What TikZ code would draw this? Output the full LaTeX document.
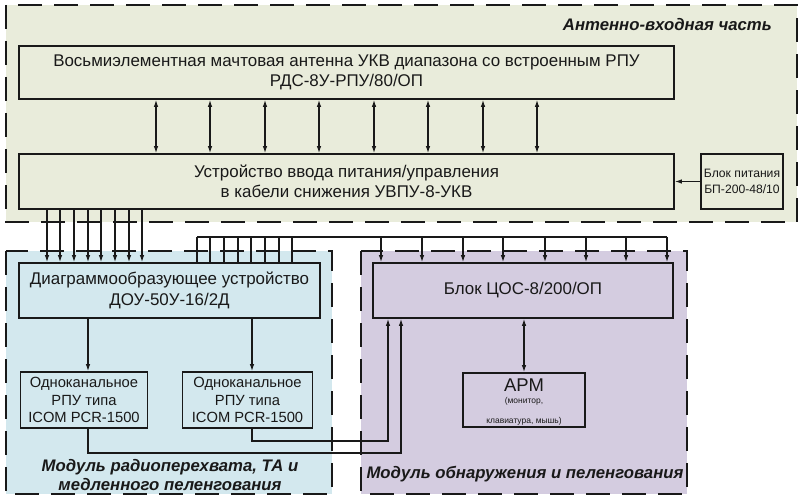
\documentclass[tikz,border=0pt]{standalone}
\usepackage{fontspec}
\setmainfont{Liberation Sans}
\usetikzlibrary{arrows.meta}
\definecolor{greenbg}{RGB}{233,236,219}
\definecolor{bluebg}{RGB}{211,232,238}
\definecolor{purplebg}{RGB}{212,204,224}
\definecolor{ink}{RGB}{25,25,25}
\tikzset{
  region/.style={draw=ink, line width=2bp, dash pattern=on 24bp off 12bp},
  blk/.style={draw=ink, line width=1.6bp, inner sep=0pt, align=center, text=ink},
  conn/.style={draw=ink, line width=1.2bp},
  arr/.style={conn, -{Latex[length=7bp,width=4.5bp]}},
  darr/.style={conn, {Latex[length=7bp,width=4.5bp]}-{Latex[length=7bp,width=4.5bp]}},
  lbl/.style={font=\fontsize{16.8}{19.5}\selectfont\bfseries\itshape, text=ink, inner sep=0pt, align=center},
  big/.style={font=\fontsize{17}{20.5}\selectfont},
}
\begin{document}
\begin{tikzpicture}[x=1bp,y=-1bp]
\useasboundingbox (0,0) rectangle (800,498);
% regions
\fill[white] (0,0) rectangle (800,498);
\fill[greenbg] (6,5) rectangle (797,222);
\draw[region] (6,5) rectangle (797,222);
\fill[bluebg] (6,251) rectangle (332,494);
\draw[region] (6,251) rectangle (332,494);
\fill[purplebg] (361,251) rectangle (687,494);
\draw[region] (361,251) rectangle (687,494);
% labels
\node[lbl, anchor=east] (lblA) at (772,25) {Антенно-входная часть};
\node[lbl] (lblB) at (170,475) {Модуль радиоперехвата, ТА и\\медленного пеленгования};
\node[lbl] (lblC) at (525,474) {Модуль обнаружения и пеленгования};
% blocks
\node[blk, big, minimum width=655bp, minimum height=53bp] (ant) at (346.5,72.5)
  {Восьмиэлементная мачтовая антенна УКВ диапазона со встроенным РПУ\\РДС-8У-РПУ/80/ОП};
\node[blk, big, minimum width=655bp, minimum height=55bp] (uvpu) at (346.5,181.5)
  {Устройство ввода питания/управления\\в кабели снижения УВПУ-8-УКВ};
\node[blk, minimum width=82bp, minimum height=55bp, font=\fontsize{12.2}{15.5}\selectfont] (bp) at (742,181.5)
  {Блок питания\\БП-200-48/10};
\node[blk, big, minimum width=301bp, minimum height=55bp] (dou) at (169.5,290.5)
  {Диаграммообразующее устройство\\ДОУ-50У-16/2Д};
\node[blk, big, minimum width=300bp, minimum height=55bp] (tsos) at (523,290.5)
  {Блок ЦОС-8/200/ОП};
\node[blk, minimum width=127bp, minimum height=56bp, font=\fontsize{14.8}{17.5}\selectfont] (rpu1) at (84,400)
  {Одноканальное\\РПУ типа\\ICOM PCR-1500};
\node[blk, minimum width=130bp, minimum height=56bp, font=\fontsize{14.8}{17.5}\selectfont] (rpu2) at (247.5,400)
  {Одноканальное\\РПУ типа\\ICOM PCR-1500};
\node[blk, minimum width=122bp, minimum height=54bp] (arm) at (524,400) {};
\node[inner sep=0pt, align=center, text=ink, font=\fontsize{8.5}{11}\selectfont] (armtxt) at (524,402)
  {{\fontsize{18.5}{18.5}\selectfont АРМ}\\[2bp](монитор,\\[9bp]клавиатура, мышь)};
% antenna <-> uvpu
\foreach \x [count=\i] in {156,210,265,319,374,428,483,537}
  \coordinate (a\i) at (\x,0);
\foreach \i in {1,...,8}
  \draw[darr] (a\i |- ant.south) -- (a\i |- uvpu.north);
% power -> uvpu
\draw[arr] (bp.west) -- (uvpu.east |- bp.west);
% uvpu -> dou
\foreach \x [count=\i] in {47,60,74,88,101,115,129,142}
  \coordinate (u\i) at (\x,0);
\foreach \i in {1,...,8}
  \draw[arr] (u\i |- uvpu.south) -- (u\i |- dou.north);
% bus dou -> tsos
\coordinate (busL) at (197,237);
\coordinate (busR) at (667,237);
\draw[conn] (busL) -- (busR);
\foreach \x [count=\i] in {197,210,224,238,251,265,279,292}
  \coordinate (d\i) at (\x,237);
\foreach \i in {1,...,8}
  \draw[conn] (d\i |- dou.north) -- (d\i);
\foreach \x [count=\i] in {381,422,463,503,545,586,626,667}
  \coordinate (t\i) at (\x,237);
\foreach \i in {1,...,8}
  \draw[arr] (t\i) -- (t\i |- tsos.north);
% dou -> rpu
\coordinate (r1) at (88,0);
\coordinate (r2) at (252,0);
\draw[arr] (r1 |- dou.south) -- (r1 |- rpu1.north);
\draw[arr] (r2 |- dou.south) -- (r2 |- rpu2.north);
% rpu -> tsos
\coordinate (k1) at (401,453);
\coordinate (k2) at (388,441);
\draw[arr] (r1 |- rpu1.south) -- (r1 |- k1) -- (k1) -- (k1 |- tsos.south);
\draw[arr] (r2 |- rpu2.south) -- (r2 |- k2) -- (k2) -- (k2 |- tsos.south);
% tsos <-> arm
\coordinate (m) at (524,0);
\draw[darr] (m |- tsos.south) -- (m |- arm.north);
\end{tikzpicture}
\end{document}
